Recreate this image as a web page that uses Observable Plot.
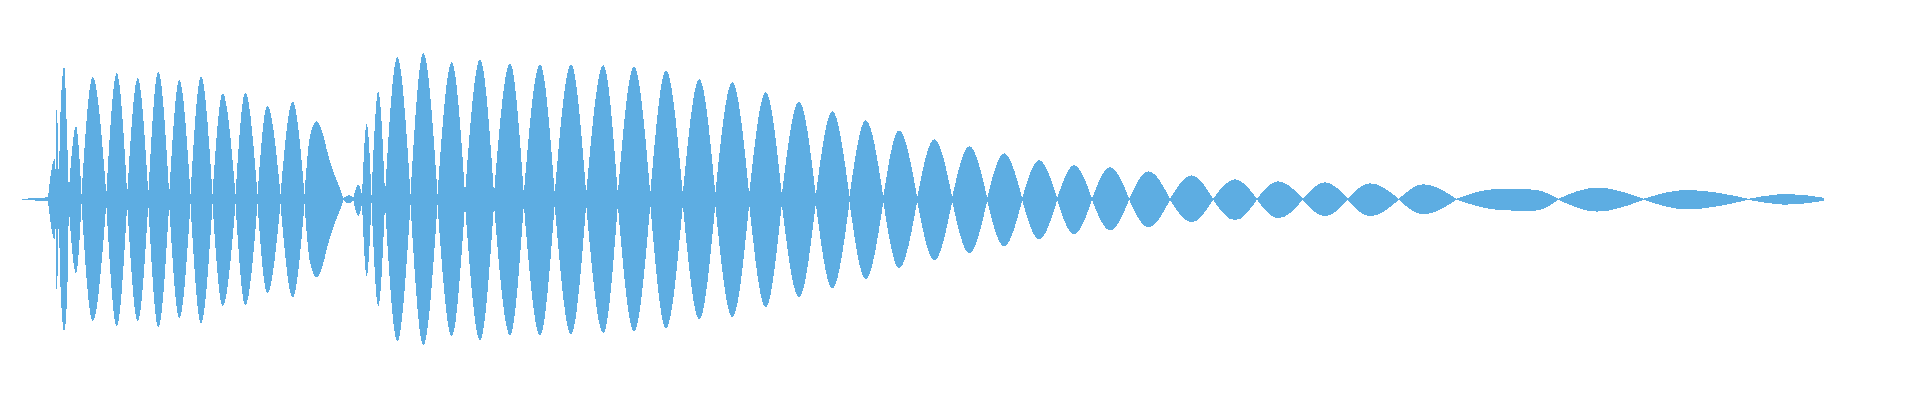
<!DOCTYPE html>
<html>
<head>
<meta charset="utf-8">
<script src="https://cdn.jsdelivr.net/npm/d3@7"></script>
<script src="https://cdn.jsdelivr.net/npm/@observablehq/plot@0.6"></script>
<style>
  html, body { margin: 0; padding: 0; background: #ffffff; }
  #chart svg { display: block; }
</style>
</head>
<body>
<div id="chart"></div>
<script>
// Lobe boundaries (sample position) and the envelope amplitude at each boundary
const edges = [22, 48, 55.5, 58.8, 68.8, 81.5, 106.3, 127.2, 148.3, 169.2, 190.5, 212.5, 235.5, 257.5, 280.5, 304.5,
  343.3, 353.3, 362, 371.5, 385, 410.5, 437.5, 465, 494, 523.8, 554.7, 586.2, 617.8, 650.3, 682.8, 715.3,
  749.2, 781.8, 815.8, 849.5, 883.3, 917.2, 952.2, 987.2, 1022.2, 1057.2, 1092, 1129.2, 1170, 1213, 1257,
  1302.8, 1347.8, 1398.8, 1456.5, 1558.5, 1643.5, 1748.5, 1824];
const edgeAmp = [0.5, 2, 30, 15, 8, 5, 5, 5, 5, 5, 5, 5, 5, 5, 5, 5,
  1, 1, 4, 4, 5, 5.5, 5.5, 5.5, 5.5, 5.5, 5.5, 5.5, 5.5, 5.5, 5.5, 5.5,
  5, 4.5, 4, 3, 2.5, 2, 2, 1.5, 1, 1, 0.5, 0.5, 0.5, 0.5, 0.5,
  0.5, 0.5, 0.5, 0.5, 0.5, 0.5, 0.5, 1.5];

// Crest of each lobe: position, upper amplitude, lower amplitude
const crestX = [37, 54.5, 56.7, 64.2, 76, 92.7, 116.7, 137.7, 158.3, 179.3, 201, 222.7, 245.3, 267.3, 292.7,
  316.7, 349, 358.3, 366.7, 378.3, 397.3, 423.3, 451.7, 480, 510, 540, 571, 603.3, 634, 666, 699.3,
  732.3, 765.7, 799, 832.3, 865.7, 899, 934.3, 969.3, 1004, 1039, 1074, 1110, 1148.3, 1191.7, 1235,
  1278.3, 1325, 1370, 1423.3, 1515, 1596.7, 1686.7, 1786.7];
const crestTop = [1.3, 40, 92, 133, 73, 122, 126, 121, 128, 119, 123, 106, 107, 94, 98,
  78, 4.3, 15, 76, 108, 142, 146, 137, 140, 136, 135, 135, 134, 133, 129, 120,
  117, 107, 98, 88, 79, 69, 60, 53, 46, 39, 34, 32, 28, 24, 20,
  18, 17, 16, 15, 10.3, 11.7, 9.3, 5.3];
const crestBottom = [1.3, 40, 92, 132, 74, 122, 127, 122, 128, 119, 124, 107, 106, 94, 98,
  78, 4.3, 17, 77, 107, 142, 146, 137, 141, 136, 136, 135, 134, 132, 129, 120,
  118, 108, 98, 89, 80, 69, 61, 54, 47, 40, 35, 31, 28, 23, 21,
  19, 17, 17, 15, 11.3, 12.3, 10, 5.3];

// Extra envelope readings on the irregular lobes
const shoulderX = [61, 67, 310, 323.3, 326.7, 330, 333.3, 336.7, 340, 1497, 1535];
const shoulderTop = [100, 65, 63, 64, 50, 38, 28, 19, 11, 10.3, 9.5];
const shoulderBottom = [100, 100, 63, 64, 50, 38, 28, 19, 11, 10.5, 11.3];

const rows = [];
for (let i = 0; i < crestX.length; i++) {
  const pts = [
    {x: edges[i], top: edgeAmp[i], bottom: edgeAmp[i]},
    {x: crestX[i], top: crestTop[i], bottom: crestBottom[i]},
    {x: edges[i + 1], top: edgeAmp[i + 1], bottom: edgeAmp[i + 1]}
  ];
  shoulderX.forEach((sx, j) => {
    if (sx > edges[i] && sx < edges[i + 1]) pts.push({x: sx, top: shoulderTop[j], bottom: shoulderBottom[j]});
  });
  pts.sort((a, b) => a.x - b.x);
  pts.forEach(p => rows.push({...p, lobe: i}));
}

const chart = Plot.plot({
  width: 1920,
  height: 400,
  margin: 0,
  x: {domain: [0, 1920], axis: null},
  y: {domain: [-200.7, 199.3], axis: null},
  marks: [
    Plot.areaY(rows, {
      x: "x",
      y1: d => -d.bottom,
      y2: d => d.top,
      z: "lobe",
      fill: "#5dade2",
      curve: "monotone-x",
      shapeRendering: "crispEdges"
    })
  ]
});
document.getElementById("chart").append(chart);
</script>
</body>
</html>
